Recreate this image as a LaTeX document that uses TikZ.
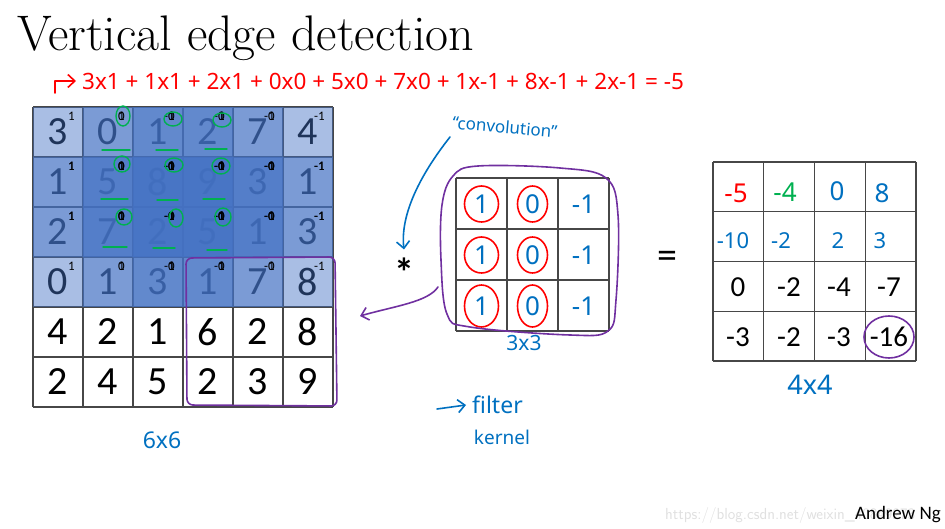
\documentclass[tikz,border=0pt]{standalone}
\usepackage{fontspec}
\usetikzlibrary{arrows.meta}
\newfontfamily\calibri{Carlito}
\newfontfamily\hand{Noto Sans}
\definecolor{penblue}{HTML}{0070C0}
\definecolor{penred}{HTML}{FF0000}
\definecolor{pengreen}{HTML}{00B050}
\definecolor{penpurple}{HTML}{7030A0}
\definecolor{winblue}{HTML}{4472C4}
\begin{document}
\begin{tikzpicture}[x=1pt,y=-1pt,
  cellnum/.style={font=\calibri\fontsize{40}{48}\selectfont,inner sep=0pt},
  smallnum/.style={font=\calibri\fontsize{29}{34}\selectfont,inner sep=0pt},
  supnum/.style={font=\calibri\fontsize{13}{15}\selectfont,inner sep=0pt,anchor=east},
  handnum/.style={font=\hand\fontsize{26}{30}\selectfont,inner sep=0pt},
  handtext/.style={font=\hand\fontsize{23}{27}\selectfont,text=penblue,inner sep=0pt},
  gridline/.style={draw=black!72,line width=1.3},
  window/.style={fill=winblue,fill opacity=0.46},
  pen/.style={line width=1.6,line cap=round,line join=round},
  barb/.style={-{Straight Barb[length=7pt,width=13pt]}}]
  \useasboundingbox (0,0) rectangle (945,529);

  % Title
  \node[anchor=base west,inner sep=0pt,font=\fontsize{50}{60}\selectfont] (title) at (17,51) {Vertical edge detection};

  % Red sum
  \node[anchor=west,inner sep=0pt,text=penred,font=\hand\fontsize{22.5}{26}\selectfont] (sum) at (82,81)
    {3x1 + 1x1 + 2x1 + 0x0 + 5x0 + 7x0 + 1x-1 + 8x-1 + 2x-1 = -5};
  \coordinate (hook) at (55,93);
  \draw[pen,barb,penred] (hook) |- ([xshift=-6pt]sum.west);

  % 6x6 image
  \foreach \row [count=\i from 0] in {{3,0,1,2,7,4},{1,5,8,9,3,1},{2,7,2,5,1,3},{0,1,3,1,7,8},{4,2,1,6,2,8},{2,4,5,2,3,9}}
    \foreach \v [count=\j from 0] in \row
      \node[cellnum] (g\i\j) at (58+50*\j,132+50*\i) {\v};
  \foreach \k in {0,...,6} {
    \draw[gridline] (33+50*\k,107) -- ++(0,300);
    \draw[gridline] (33,107+50*\k) -- ++(300,0);
  }
  \foreach \r in {0,1}
    \foreach \c in {0,...,3}
      \fill[window] (33+50*\c,107+50*\r) rectangle ++(150,150);
  \foreach \r in {0,1}
    \foreach \c in {0,...,3}
      \foreach \k/\w in {0/1,1/0,2/-1}
        \foreach \m in {0,1,2}
          \node[supnum] (s\r\c\k\m) at (75+50*\c+50*\k,116+50*\r+50*\m) {\w};

  % Green marks on the first window
  \foreach \cx/\cy/\rx/\ry in {123/116/7/10,173/119/9/7,222/120/9/7,122/164/8/8,174/165/9/7,221/166/9/8,124/217/8/8,176/218/7/9,223/217/8/9}
    \draw[pen,pengreen,line width=1.4] (\cx,\cy) ellipse [x radius=\rx,y radius=\ry];
  \foreach \xa/\xb/\y in {102/130/150,156/178/150,205/227/149,101/128/199,157/178/200,203/225/199,103/127/247,153/175/248,207/227/250}
    \draw[pen,pengreen,line width=1.4] (\xa,\y) -- (\xb,\y);

  % Purple window
  \draw[pen,penpurple,rounded corners=6] (186,258) -- (335,257) -- (337,406) -- (187,405) -- cycle;
  \node[handtext] (six) at (162,440) {6x6};

  % Filter
  \node[font=\calibri\bfseries\fontsize{40}{48}\selectfont,inner sep=0pt] (star) at (404,272) {*};
  \foreach \row [count=\i from 0] in {{1,0,-1},{1,0,-1},{1,0,-1}}
    \foreach \v [count=\j from 0] in \row
      \node[handnum,text=penblue] (f\i\j) at (481.5+51*\j,204+51*\i) {\v};
  \foreach \k in {0,...,3} {
    \draw[gridline] (456+51*\k,178) -- ++(0,153);
    \draw[gridline] (456,178+51*\k) -- ++(153,0);
  }
  \foreach \i/\ry in {0/18,1/18,2/21} {
    \draw[pen,penred] (f\i0) ellipse [x radius=17,y radius=\ry];
    \draw[pen,penred] (f\i1) ellipse [x radius=15,y radius=\ry];
  }
  \draw[pen,penpurple] plot[smooth cycle,tension=0.6] coordinates {(478,166) (560,168) (606,178) (618,215) (616,300) (608,331) (570,335) (470,327) (447,314) (441,260) (442,205) (453,176)};
  \coordinate (loopL) at (438,287);
  \coordinate (boxR) at (360,316);
  \draw[pen,penpurple,barb] (loopL) .. controls (428,302) and (395,306) .. (boxR);
  \node[handtext,font=\hand\fontsize{21}{25}\selectfont] (three) at (524,343) {3x3};

  % "convolution"
  \node[handtext,font=\hand\fontsize{17}{20}\selectfont,rotate=-5] (conv) at (505,127) {“convolution”};
  \coordinate (convS) at (450,137);
  \draw[pen,penblue,barb] (convS) .. controls (420,175) and (400,215) .. ([yshift=8pt]star.north);
  \node[handtext,anchor=west] (filt) at (472,405) {filter};
  \node[handtext,font=\hand\fontsize{19}{23}\selectfont] (kern) at (502,437) {kernel};
  \coordinate (filtA) at (437,409);
  \draw[pen,penblue,barb] (filtA) -- ([xshift=-6pt]filt.west);

  % Output
  \node[font=\calibri\fontsize{40}{48}\selectfont,inner sep=0pt] (eq) at (667,260) {=};
  \node[handnum,text=penred] (o00) at (736,193) {-5};
  \node[handnum,text=pengreen] (o01) at (785,192) {-4};
  \node[handnum,text=penblue] (o02) at (837,191) {0};
  \node[handnum,text=penblue] (o03) at (882,193) {8};
  \foreach \v/\x in {-10/733,-2/781,2/838,3/880}
    \node[handnum,text=penblue,font=\hand\fontsize{22}{26}\selectfont] (o1\v) at (\x,241) {\v};
  \foreach \v/\x [count=\j from 0] in {0/738,-2/789,-4/839,-7/889}
    \node[smallnum] (o2\j) at (\x,287) {\v};
  \foreach \v/\x [count=\j from 0] in {-3/738,-2/789,-3/839,-16/889}
    \node[smallnum] (o3\j) at (\x,337) {\v};
  \foreach \k in {0,...,4} {
    \draw[gridline] (713+50.75*\k,162) -- ++(0,199);
    \draw[gridline] (713,162+49.75*\k) -- ++(203,0);
  }
  \draw[pen,penpurple] (o33) ellipse [x radius=25,y radius=21];
  \node[handtext,font=\hand\fontsize{27}{31}\selectfont] (four) at (810,385) {4x4};

  % Footer
  \node[anchor=west,inner sep=0pt,text=black!12,font=\fontsize{16}{19}\selectfont\sffamily] (mark) at (665,515) {https://blog.csdn.net/weixin\_40849273};
  \node[anchor=east,inner sep=0pt,font=\calibri\fontsize{19}{22}\selectfont] (ng) at (941,515) {Andrew Ng};
\end{tikzpicture}
\end{document}
